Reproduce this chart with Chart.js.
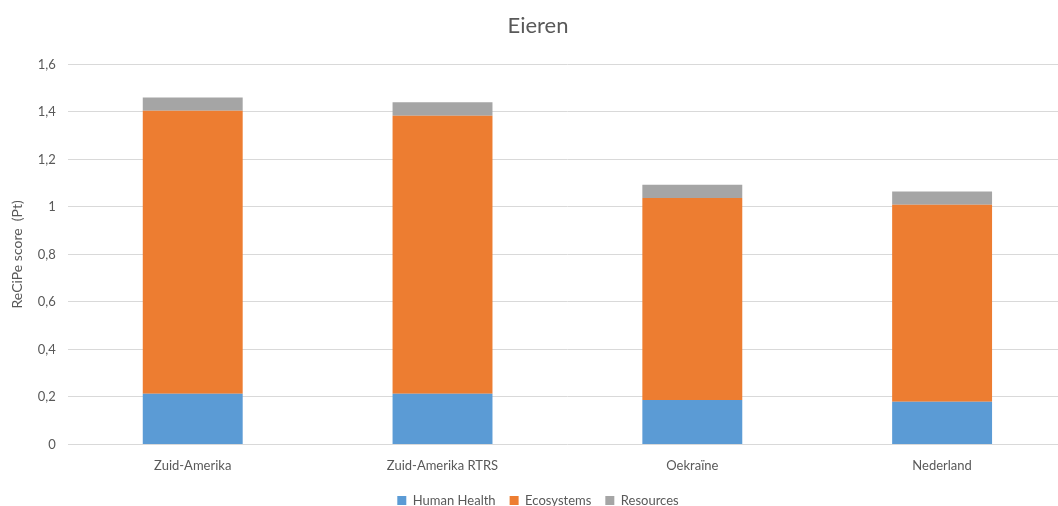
<!DOCTYPE html>
<html>
<head>
    <meta charset="utf-8">
    <title>Eieren</title>
    <style>
        body { margin: 0; background: #fff; overflow: hidden; }
        #wrap { width: 1067px; height: 517px; }
    </style>
    <script src="https://cdn.jsdelivr.net/npm/chart.js"></script>
</head>
<body>
<div id="wrap"><canvas id="chart"></canvas></div>
<script>
    // data
    var categories = ['Zuid-Amerika', 'Zuid-Amerika RTRS', 'Oekraïne', 'Nederland'];
    var humanHealth = [0.213, 0.213, 0.187, 0.180];
    var ecosystems = [1.192, 1.171, 0.850, 0.829];
    var resources = [0.056, 0.057, 0.056, 0.056];
    var yTicks = [0, 0.2, 0.4, 0.6, 0.8, 1, 1.2, 1.4, 1.6];

    var textColor = '#595959';
    Chart.defaults.font.family = 'Lato, "Open Sans", sans-serif';
    Chart.defaults.color = textColor;

    function ds(label, data, color) {
        return {
            label: label,
            data: data,
            backgroundColor: color,
            categoryPercentage: 1,
            barPercentage: 0.4
        };
    }

    new Chart(document.getElementById('chart'), {
        type: 'bar',
        data: {
            labels: categories,
            datasets: [
                ds('Human Health', humanHealth, '#5b9bd5'),
                ds('Ecosystems', ecosystems, '#ed7d31'),
                ds('Resources', resources, '#a5a5a5')
            ]
        },
        options: {
            responsive: true,
            maintainAspectRatio: false,
            animation: false,
            layout: { padding: { left: 9, right: 0, top: 4, bottom: 0 } },
            plugins: {
                title: {
                    display: true,
                    text: 'Eieren',
                    font: { size: 22, weight: 'normal' },
                    color: textColor,
                    padding: { top: 9, bottom: 25 }
                },
                legend: {
                    position: 'bottom',
                    labels: {
                        boxWidth: 9,
                        boxHeight: 9,
                        font: { size: 13 },
                        padding: 14
                    }
                },
                tooltip: { enabled: false }
            },
            scales: {
                x: {
                    stacked: true,
                    grid: { display: false },
                    border: { display: false },
                    ticks: { font: { size: 13 }, padding: 6 }
                },
                y: {
                    stacked: true,
                    min: 0,
                    max: 1.6,
                    afterBuildTicks: function (axis) {
                        axis.ticks = yTicks.map(function (v) { return { value: v }; });
                    },
                    ticks: {
                        font: { size: 13 },
                        padding: 12,
                        callback: function (v) { return String(v).replace('.', ','); }
                    },
                    grid: { color: '#d9d9d9', drawTicks: false },
                    border: { display: false },
                    title: {
                        display: true,
                        text: 'ReCiPe score  (Pt)',
                        font: { size: 14 },
                        padding: { top: 0, bottom: 0 }
                    }
                }
            }
        }
    });
</script>
</body>
</html>
